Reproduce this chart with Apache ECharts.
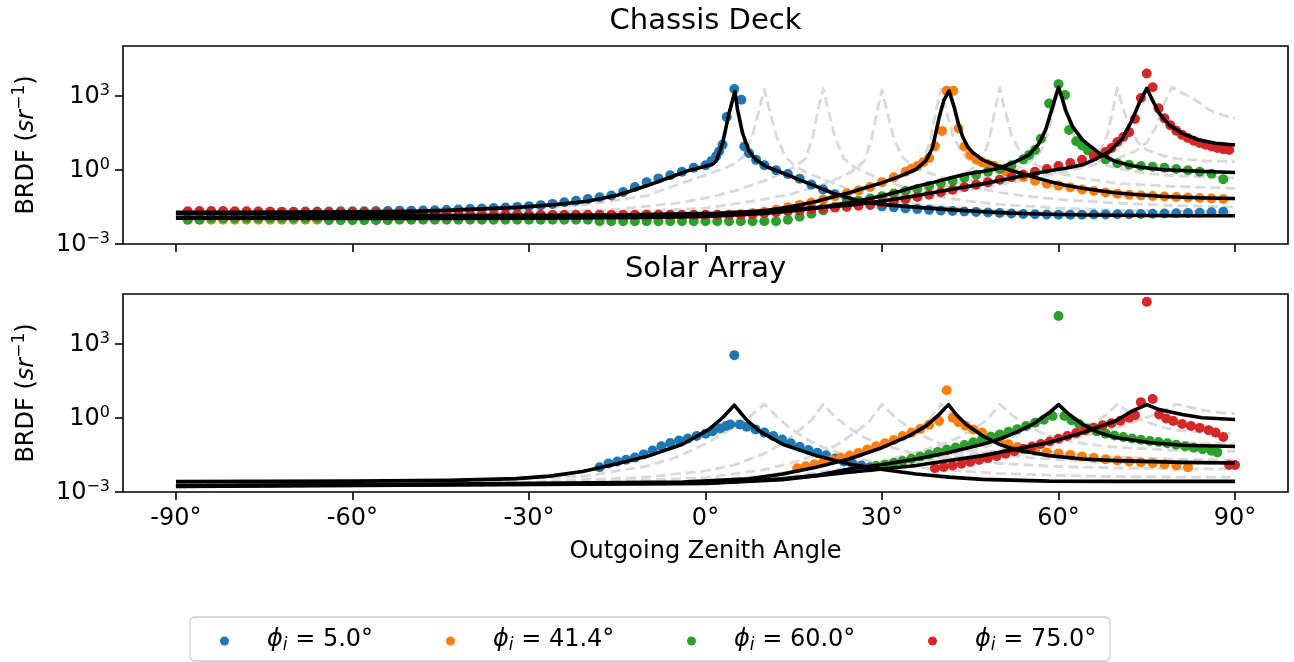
<!DOCTYPE html>
<html><head><meta charset="utf-8">
<script src="https://cdn.jsdelivr.net/npm/echarts@6/dist/echarts.min.js"></script>
<style>html,body{margin:0;padding:0;background:#fff}#c{width:1294px;height:662px}</style>
</head><body><div id="c"></div>
<script>
// ---------- tick labels / categories ----------
const xTicks = [-90, -60, -30, 0, 30, 60, 90];
const yTicks = [1e-3, 1, 1e3];
const seriesNames = ['5.0°', '41.4°', '60.0°', '75.0°'];
const panelTitles = ['Chassis Deck', 'Solar Array'];

// ---------- Chassis Deck: measured points ----------
const deckBlue = [[-88,1.91e-2],[-86,1.91e-2],[-84,1.91e-2],[-82,1.95e-2],[-80,1.95e-2],[-78,1.95e-2],[-76,2.0e-2],[-74,2.0e-2],[-72,2.0e-2],[-70,2.0e-2],[-68,2.04e-2],[-66,2.04e-2],[-64,2.04e-2],[-62,2.09e-2],[-60,2.09e-2],[-58,2.09e-2],[-56,2.14e-2],[-54,2.14e-2],[-52,2.19e-2],[-50,2.19e-2],[-48,2.24e-2],[-46,2.29e-2],[-44,2.34e-2],[-42,2.45e-2],[-40,2.57e-2],[-38,2.69e-2],[-36,2.82e-2],[-34,2.95e-2],[-32,3.16e-2],[-30,3.39e-2],[-28,3.72e-2],[-26,4.17e-2],[-24,4.9e-2],[-22,5.62e-2],[-20,6.61e-2],[-18,7.76e-2],[-16,9.12e-2],[-14,0.126],[-12,0.2],[-10,0.316],[-8,0.447],[-6,0.603],[-4,0.832],[-2,1.2],[0,1.51],[1,2.24],[1.8,3.47],[2.3,5.5],[2.9,10.2],[3.6,135],[4.9,1820],[6.1,676],[6.6,8.71],[7.4,4.68],[8.6,2.51],[10,1.51],[12,0.955],[14,0.676],[16,0.437],[18,0.251],[20,0.158],[22,0.102],[24,6.76e-2],[26,4.79e-2],[28,3.8e-2],[30,3.31e-2],[32,3.02e-2],[34,2.75e-2],[36,2.57e-2],[38,2.4e-2],[40,2.24e-2],[42,2.14e-2],[44,2.04e-2],[46,1.95e-2],[48,1.86e-2],[50,1.78e-2],[52,1.7e-2],[54,1.62e-2],[56,1.58e-2],[58,1.55e-2],[60,1.51e-2],[62,1.51e-2],[64,1.51e-2],[66,1.55e-2],[68,1.55e-2],[70,1.58e-2],[72,1.58e-2],[74,1.62e-2],[76,1.66e-2],[78,1.7e-2],[80,1.74e-2],[82,1.78e-2],[84,1.82e-2],[86,1.91e-2],[88,2.0e-2]];
const deckOrange = [[-88,9.55e-3],[-86,9.55e-3],[-84,9.55e-3],[-82,9.55e-3],[-80,9.55e-3],[-78,9.55e-3],[-76,9.55e-3],[-74,9.55e-3],[-72,9.55e-3],[-70,9.55e-3],[-68,9.55e-3],[-66,9.55e-3],[-64,1.05e-2],[-62,1.05e-2],[-60,1.05e-2],[-58,1.05e-2],[-56,1.05e-2],[-54,1.05e-2],[-52,1.05e-2],[-50,1.05e-2],[-48,1.05e-2],[-46,1.05e-2],[-44,1.1e-2],[-42,1.1e-2],[-40,1.1e-2],[-38,1.1e-2],[-36,1.1e-2],[-34,1.1e-2],[-32,1.1e-2],[-30,1.1e-2],[-28,1.1e-2],[-26,1.1e-2],[-24,1.1e-2],[-22,1.1e-2],[-20,1.1e-2],[-18,1.2e-2],[-16,1.2e-2],[-14,1.2e-2],[-12,1.2e-2],[-10,1.2e-2],[-8,1.2e-2],[-6,1.2e-2],[-4,1.2e-2],[-2,1.2e-2],[0,1.2e-2],[2,1.32e-2],[4,1.45e-2],[6,1.58e-2],[8,1.74e-2],[10,2.0e-2],[12,2.4e-2],[14,3.02e-2],[16,3.8e-2],[18,4.79e-2],[20,6.31e-2],[22,8.51e-2],[24,0.112],[26,0.145],[28,0.2],[30,0.316],[32,0.5],[34,0.832],[35,1.1],[36,1.41],[37,2.0],[38,2.95],[39,8.91],[40.2,37.2],[41,1550],[42.1,1550],[43,46.8],[44,8.71],[45,3.98],[46,2.63],[47,2.0],[48,1.66],[49,1.45],[50,1.1],[51,0.871],[52,0.724],[54,0.525],[56,0.363],[58,0.275],[60,0.229],[62,0.191],[64,0.158],[66,0.138],[68,0.12],[70,0.107],[72,9.77e-2],[74,9.12e-2],[76,8.71e-2],[78,8.32e-2],[80,7.94e-2],[82,7.59e-2],[84,7.24e-2],[86,6.92e-2],[88,6.61e-2]];
const deckGreen = [[-88,9.55e-3],[-86,9.55e-3],[-84,1.1e-2],[-82,1.1e-2],[-80,1.1e-2],[-78,1.1e-2],[-76,1.1e-2],[-74,1.1e-2],[-72,1.1e-2],[-70,1.1e-2],[-68,1.1e-2],[-66,1.1e-2],[-64,9.12e-3],[-62,9.12e-3],[-60,9.12e-3],[-58,9.12e-3],[-56,9.12e-3],[-54,9.12e-3],[-52,9.55e-3],[-50,9.55e-3],[-48,9.55e-3],[-46,9.55e-3],[-44,9.55e-3],[-42,9.55e-3],[-40,9.55e-3],[-38,9.55e-3],[-36,9.55e-3],[-34,9.55e-3],[-32,9.55e-3],[-30,9.55e-3],[-28,9.55e-3],[-26,9.55e-3],[-24,9.55e-3],[-22,9.55e-3],[-20,9.55e-3],[-18,8.32e-3],[-16,8.32e-3],[-14,8.32e-3],[-12,8.32e-3],[-10,8.32e-3],[-8,8.32e-3],[-6,8.32e-3],[-4,8.32e-3],[-2,8.32e-3],[0,8.32e-3],[2,8.32e-3],[4,8.32e-3],[6,8.32e-3],[8,8.32e-3],[10,8.32e-3],[12,8.32e-3],[14,9.55e-3],[16,1.26e-2],[18,1.66e-2],[20,2.29e-2],[22,3.16e-2],[24,4.37e-2],[26,5.62e-2],[28,6.92e-2],[30,8.51e-2],[32,0.11],[34,0.138],[36,0.166],[38,0.219],[40,0.282],[42,0.363],[44,0.479],[46,0.631],[48,0.832],[50,1.07],[52,1.51],[54,2.63],[55,3.98],[56,6.31],[57,17.8],[58.4,479],[60,2880],[61.1,1050],[61.8,40.7],[63,14.1],[64,9.55],[65,6.03],[66,4.17],[68,2.63],[70,1.82],[72,1.58],[74,1.41],[76,1.32],[78,1.2],[80,1.07],[82,0.955],[84,0.832],[86,0.692],[88,0.417]];
const deckRed = [[-88,2.09e-2],[-86,2.14e-2],[-84,2.14e-2],[-82,2.14e-2],[-80,2.09e-2],[-78,2.09e-2],[-76,2.04e-2],[-74,2.0e-2],[-72,1.95e-2],[-70,1.95e-2],[-68,1.91e-2],[-66,1.91e-2],[-64,1.86e-2],[-62,1.86e-2],[-60,1.82e-2],[-58,1.82e-2],[-56,1.78e-2],[-54,1.74e-2],[-52,1.74e-2],[-50,1.7e-2],[-48,1.7e-2],[-46,1.66e-2],[-44,1.62e-2],[-42,1.51e-2],[-40,1.51e-2],[-38,1.51e-2],[-36,1.51e-2],[-34,1.51e-2],[-32,1.51e-2],[-30,1.51e-2],[-28,1.51e-2],[-26,1.51e-2],[-24,1.51e-2],[-22,1.51e-2],[-20,1.51e-2],[-18,1.51e-2],[-16,1.51e-2],[-14,1.51e-2],[-12,1.51e-2],[-10,1.51e-2],[-8,1.51e-2],[-6,1.51e-2],[-4,1.51e-2],[-2,1.51e-2],[0,1.51e-2],[2,1.51e-2],[4,1.51e-2],[6,1.51e-2],[8,1.58e-2],[10,1.74e-2],[12,1.91e-2],[14,2.09e-2],[16,2.29e-2],[18,2.51e-2],[20,2.75e-2],[22,2.95e-2],[24,3.16e-2],[26,3.55e-2],[28,3.98e-2],[30,4.47e-2],[32,5.37e-2],[34,6.46e-2],[36,7.94e-2],[38,9.77e-2],[40,0.123],[42,0.155],[44,0.2],[46,0.251],[48,0.316],[50,0.398],[52,0.5],[54,0.646],[56,0.832],[58,1.07],[60,1.41],[62,1.86],[64,2.51],[66,3.55],[68,5.25],[69,7.59],[70,13.2],[71,20.9],[72,33.1],[73,112],[74,794],[75,7760],[76,2140],[77,302],[78,120],[79,63.1],[80,38],[81,25.7],[82,19.1],[83,14.8],[84,12],[85,10.2],[86,8.71],[87,7.59],[88,6.76],[89,6.31]];

// ---------- Chassis Deck: fitted model ----------
const deckBlueFit = [[-90,1.91e-2],[-80,1.91e-2],[-70,1.95e-2],[-60,2.0e-2],[-50,2.09e-2],[-44,2.29e-2],[-38,2.63e-2],[-32,3.02e-2],[-26,3.8e-2],[-20,5.37e-2],[-15,9.33e-2],[-10,0.224],[-6,0.5],[-3,0.912],[0,1.38],[1,1.58],[1.8,2.24],[2.9,11.7],[4.0,191],[5.0,1450],[5.45,263],[6.3,30.2],[7.4,5.5],[8.6,2.51],[10.3,1.35],[13.1,0.741],[15.9,0.398],[18.8,0.214],[21.6,0.115],[24.4,7.24e-2],[27,5.01e-2],[30,3.98e-2],[34,3.31e-2],[38,2.82e-2],[42,2.4e-2],[46,2.09e-2],[50,1.86e-2],[55,1.66e-2],[60,1.55e-2],[65,1.48e-2],[70,1.45e-2],[75,1.41e-2],[80,1.38e-2],[90,1.38e-2]];
const deckOrangeFit = [[-90,1.2e-2],[-60,1.17e-2],[-30,1.23e-2],[-10,1.29e-2],[0,1.45e-2],[5,1.66e-2],[10,2.19e-2],[13.1,2.82e-2],[16,3.8e-2],[18.8,5.25e-2],[21.6,7.94e-2],[24.4,0.117],[27.3,0.191],[30.1,0.302],[32.9,0.525],[35.8,1.05],[37.5,2.4],[38.6,7.94],[39.7,126],[40.5,631],[41.4,1550],[42.3,316],[43.0,70.8],[43.7,21.9],[44.5,8.91],[45.4,5.01],[47.1,2.51],[49.9,1.32],[52.7,0.832],[55.6,0.525],[58.4,0.339],[61,0.24],[64.1,0.178],[67,0.141],[69.7,0.117],[72.5,0.102],[75.4,9.12e-2],[78,8.32e-2],[81,7.76e-2],[85,7.24e-2],[90,6.92e-2]];
const deckGreenFit = [[-90,1.1e-2],[-50,1.07e-2],[-30,1.1e-2],[-10,1.17e-2],[0,1.29e-2],[10,1.7e-2],[15,2.19e-2],[20,3.09e-2],[24.45,4.79e-2],[27.3,6.46e-2],[30.1,8.91e-2],[32.9,0.132],[35.8,0.209],[38.6,0.302],[41.4,0.457],[44.3,0.676],[47.1,0.851],[49.9,1.15],[52.7,2.14],[55.0,3.98],[56.7,11.7],[57.8,40.7],[59.0,355],[60.0,2140],[60.6,794],[61.2,257],[62.4,55],[64.1,15.8],[66.9,4.68],[69.7,2.14],[72.5,1.45],[75.4,1.15],[78,1.0],[81,0.933],[85,0.851],[90,0.776]];
const deckRedFit = [[-90,1.74e-2],[-60,1.58e-2],[-43.5,1.41e-2],[-15,1.48e-2],[2,1.74e-2],[13,2.34e-2],[24.45,3.72e-2],[30.1,5.5e-2],[35.8,8.91e-2],[41.4,0.155],[47.1,0.269],[52.7,0.5],[55.6,0.676],[58.4,0.912],[61.2,1.15],[64.1,1.58],[66.3,2.69],[68.6,5.37],[70.9,18.6],[72.5,102],[73.7,479],[75.0,1950],[75.95,661],[77.1,191],[78.8,64.6],[81.0,29.5],[83.9,15.8],[86.7,11.7],[90,10]];

// ---------- Chassis Deck: reference model curves (grey dashed) ----------
const deckTheory10 = [[-90,1.58e-2],[-60,1.66e-2],[-40,1.91e-2],[-30,2.4e-2],[-20,3.98e-2],[-10,8.91e-2],[-5,0.24],[0,0.603],[3,1.12],[5,1.78],[6.5,3.55],[8,25.1],[9.2,316],[10,1780],[10.8,316],[12,25.1],[13.5,3.55],[15,1.58],[17,0.794],[20,0.417],[25,0.141],[30,7.08e-2],[35,4.37e-2],[40,3.16e-2],[50,2.19e-2],[60,1.82e-2],[70,1.66e-2],[80,1.55e-2],[90,1.51e-2]];
const deckTheory20 = [[-90,1.51e-2],[-50,1.58e-2],[-30,1.82e-2],[-15,2.51e-2],[-5,4.47e-2],[0,7.08e-2],[5,0.141],[10,0.355],[13,0.708],[15,1.26],[17,2.82],[18.2,20],[19.2,316],[20,1910],[20.8,316],[22,20],[23.5,2.82],[25,1.41],[27,0.794],[30,0.398],[35,0.151],[40,7.94e-2],[45,5.25e-2],[50,3.98e-2],[60,2.82e-2],[70,2.34e-2],[80,2.09e-2],[90,2.0e-2]];
const deckTheory30 = [[-90,1.41e-2],[-50,1.45e-2],[-20,1.66e-2],[0,2.82e-2],[10,6.31e-2],[15,0.112],[20,0.251],[23,0.5],[25,0.891],[27,2.24],[28.2,15.8],[29.2,251],[30,1660],[30.8,251],[32,17.8],[33.5,3.16],[35,1.58],[37,0.891],[40,0.5],[45,0.209],[50,0.12],[55,8.32e-2],[60,6.31e-2],[70,4.47e-2],[80,3.55e-2],[90,3.16e-2]];
const deckTheory40 = [[-90,1.26e-2],[-40,1.26e-2],[0,1.51e-2],[10,2.4e-2],[20,5.62e-2],[25,0.112],[30,0.282],[33,0.5],[35,0.891],[37,2.24],[38.2,15.8],[39.2,251],[40,1780],[40.8,316],[42,25.1],[43.5,5.01],[45,2.24],[48,1.12],[50,0.759],[55,0.355],[60,0.2],[70,0.1],[80,7.24e-2],[90,6.31e-2]];
const deckTheory50 = [[-90,1.12e-2],[-50,1.12e-2],[-20,1.2e-2],[0,1.41e-2],[10,1.91e-2],[20,3.31e-2],[30,7.59e-2],[35,0.141],[40,0.316],[43,0.562],[45,0.955],[47,2.24],[48.2,15.8],[49.2,251],[50,2000],[50.8,316],[52,25.1],[53.5,5.01],[55,2.24],[58,1.0],[60,0.708],[65,0.417],[70,0.282],[80,0.209],[90,0.178]];
const deckTheory60 = [[-90,1.12e-2],[-40,1.12e-2],[0,1.32e-2],[20,2.82e-2],[30,6.31e-2],[40,0.2],[45,0.355],[50,0.708],[53,1.12],[55,2.0],[57,5.62],[58.3,31.6],[59.3,398],[60,2000],[60.8,398],[62,50.1],[63.5,10],[65,3.98],[68,1.58],[70,1.12],[75,0.708],[80,0.562],[90,0.468]];
const deckTheory70 = [[-90,1.41e-2],[-40,1.32e-2],[0,1.58e-2],[20,2.82e-2],[30,5.01e-2],[40,0.112],[50,0.282],[55,0.5],[60,0.891],[63,1.41],[65,2.24],[67,5.62],[68.3,25.1],[69.3,316],[70,2000],[70.8,398],[72,56.2],[73.5,12.6],[75,6.31],[78,3.55],[80,2.82],[85,2.29],[90,2.14]];
const deckTheory80 = [[-90,1.58e-2],[-40,1.51e-2],[0,1.78e-2],[20,3.16e-2],[40,0.1],[50,0.251],[60,0.708],[65,1.41],[70,2.82],[73,5.62],[75,12.6],[76.5,50.1],[77.8,398],[79.3,2190],[81,1260],[82.2,912],[84,501],[85.6,263],[88,158],[90,123]];

// ---------- Solar Array: measured points ----------
const solarBlue = [[-18,1.0e-2],[-16.5,1.41e-2],[-15,1.7e-2],[-13.5,2.0e-2],[-12,2.45e-2],[-10.5,3.31e-2],[-9,4.79e-2],[-7.5,7.08e-2],[-6,9.55e-2],[-4.5,0.12],[-3,0.145],[-1.5,0.182],[0,0.224],[1.2,0.282],[2.5,0.372],[3.5,0.468],[4.2,0.537],[4.9,339],[5.8,0.537],[7,0.437],[8.5,0.339],[10,0.251],[11.5,0.182],[13,0.132],[14.5,9.33e-2],[16,6.76e-2],[17.5,5.01e-2],[19,3.89e-2],[20.5,3.02e-2],[22,2.24e-2],[23.5,1.7e-2],[25,1.38e-2],[26.5,1.17e-2],[28,1.0e-2]];
const solarOrange = [[15.6,9.12e-3],[17,1.1e-2],[18.5,1.32e-2],[20,1.62e-2],[21.5,1.95e-2],[23,2.4e-2],[24.5,2.95e-2],[26,3.8e-2],[27.5,5.25e-2],[29,7.08e-2],[30.5,9.33e-2],[32,0.126],[33.5,0.182],[35,0.251],[36.5,0.355],[38,0.525],[39.7,0.741],[41,12.9],[42,1.0],[43,0.661],[44.2,0.479],[45.5,0.339],[47,0.251],[48.5,0.174],[50,0.12],[51.5,8.51e-2],[53,6.61e-2],[54.5,5.37e-2],[56,4.68e-2],[58,3.98e-2],[60,3.63e-2],[62,3.16e-2],[64,2.75e-2],[66,2.4e-2],[68,2.09e-2],[70,1.86e-2],[72,1.7e-2],[74,1.55e-2],[76,1.45e-2],[78,1.32e-2],[80,1.17e-2],[82,1.0e-2]];
const solarGreen = [[29,1.12e-2],[30.5,1.26e-2],[32,1.51e-2],[33.5,1.78e-2],[35,2.19e-2],[36.5,2.69e-2],[38,3.31e-2],[39.5,4.17e-2],[41,5.13e-2],[42.5,6.31e-2],[44,7.94e-2],[45.5,0.102],[47,0.132],[48.5,0.166],[50,0.209],[51.5,0.269],[53,0.347],[54.5,0.468],[56,0.631],[57.5,0.832],[59,1.17],[60,12900],[61,1.17],[62.2,0.794],[63.5,0.562],[65,0.372],[66.5,0.282],[68,0.229],[69.5,0.191],[71,0.166],[72.5,0.145],[74,0.129],[75.5,0.115],[77,0.105],[78.5,9.33e-2],[80,8.13e-2],[81.5,7.08e-2],[83,6.17e-2],[84.5,5.37e-2],[86,4.68e-2],[87,3.98e-2]];
const solarRed = [[39,9.12e-3],[40.5,1.02e-2],[42,1.17e-2],[43.5,1.38e-2],[45,1.62e-2],[46.5,1.95e-2],[48,2.34e-2],[49.5,2.82e-2],[51,3.55e-2],[52.5,4.47e-2],[54,5.5e-2],[55.5,6.92e-2],[57,8.71e-2],[58.5,0.11],[60,0.141],[61.5,0.182],[63,0.24],[64.5,0.316],[66,0.398],[67.5,0.5],[69,0.603],[70.5,0.759],[72,1.0],[73,1.26],[74,4.27],[75,49000],[76,5.75],[77.1,1.35],[78.3,0.933],[79.5,0.741],[81,0.562],[82.5,0.468],[84,0.389],[85.5,0.316],[86.7,0.251],[88,0.166],[89,1.23e-2],[90,1.23e-2]];

// ---------- Solar Array: fitted model ----------
const solarBlueFit = [[-90,2.63e-3],[-60,2.75e-3],[-43.5,2.95e-3],[-32.2,3.47e-3],[-26.5,4.37e-3],[-20.9,6.76e-3],[-15.2,1.35e-2],[-9.5,2.95e-2],[-3.9,8.51e-2],[0.6,0.339],[2.9,1.0],[4.9,3.24],[6.9,0.851],[9.1,0.295],[13.1,8.51e-2],[18.8,2.95e-2],[24.4,1.35e-2],[30.1,8.13e-3],[35.8,5.37e-3],[41.4,3.98e-3],[47.1,3.24e-3],[58.4,2.75e-3],[69.7,2.69e-3],[90,2.69e-3]];
const solarOrangeFit = [[-90,1.82e-3],[-43.5,2.09e-3],[-3.9,2.51e-3],[7.4,3.39e-3],[13.1,5.37e-3],[18.8,1.0e-2],[24.4,2.14e-2],[30.1,6.31e-2],[34.6,0.186],[37.5,0.468],[39.7,1.35],[41.3,3.39],[42.6,1.35],[44.3,0.537],[47.1,0.186],[49.9,8.51e-2],[52.7,5.13e-2],[58.4,2.95e-2],[64.1,2.14e-2],[69.7,1.86e-2],[81,1.58e-2],[90,1.48e-2]];
const solarGreenFit = [[-90,1.74e-3],[-43.5,2.0e-3],[0,2.29e-3],[13.1,3.39e-3],[18.8,4.68e-3],[24.45,8.51e-3],[30.1,1.29e-2],[35.8,2.14e-2],[41.4,3.98e-2],[47.1,8.51e-2],[49.9,0.135],[52.7,0.251],[55.6,0.537],[58.4,1.58],[60,3.39],[61.8,1.35],[64.1,0.537],[66.9,0.251],[69.7,0.158],[75.4,0.1],[81,7.76e-2],[90,6.92e-2]];
const solarRedFit = [[-90,1.66e-3],[-43.5,1.91e-3],[0,2.19e-3],[13,3.16e-3],[24.45,6.31e-3],[30.1,8.51e-3],[35.8,1.17e-2],[41.4,1.86e-2],[47.1,2.95e-2],[52.7,5.37e-2],[58.4,0.1],[64.1,0.251],[69.7,0.741],[72.5,1.86],[75,3.39],[77.1,2.14],[81,1.35],[84.4,1.0],[90,0.851]];

// ---------- Solar Array: reference model curves (grey dashed) ----------
const solarTheory10 = [[-90,2.4e-3],[-40,2.63e-3],[-20,4.47e-3],[-10,1.12e-2],[-5,2.51e-2],[0,8.91e-2],[3,0.224],[6,0.631],[8,1.41],[10,3.55],[12,1.2],[14,0.447],[17,0.141],[20,6.31e-2],[25,2.51e-2],[30,1.41e-2],[40,7.94e-3],[50,5.62e-3],[60,4.68e-3],[70,4.17e-3],[80,3.98e-3],[90,3.98e-3]];
const solarTheory20 = [[-90,2.19e-3],[-30,2.51e-3],[-10,3.98e-3],[0,7.08e-3],[5,1.26e-2],[10,3.55e-2],[13,8.91e-2],[16,0.316],[18,0.794],[20,3.55],[22,1.12],[24,0.447],[27,0.158],[30,7.94e-2],[35,3.8e-2],[40,2.4e-2],[50,1.41e-2],[60,1.07e-2],[70,9.33e-3],[80,8.71e-3],[90,8.51e-3]];
const solarTheory30 = [[-90,2.0e-3],[-20,2.4e-3],[0,3.8e-3],[10,7.94e-3],[15,1.58e-2],[20,3.98e-2],[23,0.1],[26,0.316],[28,0.794],[30,3.55],[32,1.2],[34,0.5],[37,0.178],[40,8.91e-2],[45,4.47e-2],[50,3.02e-2],[60,2.0e-2],[70,1.58e-2],[80,1.45e-2],[90,1.38e-2]];
const solarTheory40 = [[-90,1.91e-3],[0,2.82e-3],[10,4.47e-3],[20,1.12e-2],[25,2.51e-2],[30,6.31e-2],[33,0.126],[36,0.355],[38,0.794],[40,3.55],[42,1.26],[44,0.562],[47,0.2],[50,0.1],[55,5.25e-2],[60,3.72e-2],[70,2.51e-2],[80,2.09e-2],[90,2.0e-2]];
const solarTheory50 = [[-90,1.82e-3],[0,2.51e-3],[15,4.47e-3],[25,1.0e-2],[30,1.78e-2],[35,3.55e-2],[40,7.94e-2],[43,0.158],[46,0.398],[48,0.891],[50,3.55],[52,1.32],[54,0.603],[57,0.251],[60,0.141],[65,8.32e-2],[70,6.31e-2],[80,4.79e-2],[90,4.37e-2]];
const solarTheory60 = [[-90,1.74e-3],[0,2.4e-3],[20,5.01e-3],[30,1.0e-2],[40,2.51e-2],[45,4.47e-2],[50,0.1],[53,0.2],[56,0.5],[58,1.0],[60,3.55],[62,1.41],[64,0.631],[67,0.282],[70,0.178],[75,0.12],[80,0.1],[90,8.71e-2]];
const solarTheory70 = [[-90,1.66e-3],[0,2.29e-3],[20,4.47e-3],[35,1.26e-2],[45,3.16e-2],[55,7.94e-2],[60,0.158],[63,0.282],[66,0.631],[68,1.26],[70,3.55],[72,1.66],[74,0.832],[77,0.447],[80,0.316],[85,0.251],[90,0.229]];
const solarTheory80 = [[-90,1.58e-3],[0,2.19e-3],[30,7.94e-3],[50,3.98e-2],[60,0.112],[65,0.2],[70,0.398],[73,0.708],[76,1.26],[78,2.0],[80,3.55],[82,2.82],[84,2.14],[86,1.78],[88,1.58],[90,1.51]];

// ---------- build ----------
const FONT = 'DejaVu Sans';
const colors = ['#1f77b4', '#ff7f0e', '#2ca02c', '#d62728'];
const legendLeft = [215, 441, 682, 923];
const panels = [
  { points: [deckBlue, deckOrange, deckGreen, deckRed],
    fits: [deckBlueFit, deckOrangeFit, deckGreenFit, deckRedFit],
    theory: [deckTheory10, deckTheory20, deckTheory30, deckTheory40, deckTheory50, deckTheory60, deckTheory70, deckTheory80] },
  { points: [solarBlue, solarOrange, solarGreen, solarRed],
    fits: [solarBlueFit, solarOrangeFit, solarGreenFit, solarRedFit],
    theory: [solarTheory10, solarTheory20, solarTheory30, solarTheory40, solarTheory50, solarTheory60, solarTheory70, solarTheory80] }
];

const series = [];
panels.forEach((p, idx) => {
  p.theory.forEach(d => series.push({
    type: 'line', xAxisIndex: idx, yAxisIndex: idx, data: d, symbol: 'none', silent: true, z: 1,
    lineStyle: { color: '#d9d9d9', width: 2.8, type: [10, 5], join: 'round' }
  }));
  p.points.forEach((d, i) => series.push({
    type: 'scatter', name: seriesNames[i], xAxisIndex: idx, yAxisIndex: idx, data: d, z: 2,
    symbol: 'circle', symbolSize: 10, itemStyle: { color: colors[i], opacity: 1 }
  }));
  p.fits.forEach(d => series.push({
    type: 'line', xAxisIndex: idx, yAxisIndex: idx, data: d, symbol: 'none', silent: true, z: 3,
    lineStyle: { color: '#000', width: 3.6, join: 'round' }
  }));
});

const supRich = {
  b: { fontFamily: FONT, fontSize: 24, color: '#000', lineHeight: 26, verticalAlign: 'bottom' },
  e: { fontFamily: FONT, fontSize: 16, color: '#000', lineHeight: 16, verticalAlign: 'top' }
};
const yNameRich = {
  n: { fontFamily: FONT, fontSize: 24, color: '#000', lineHeight: 28, verticalAlign: 'bottom' },
  i: { fontFamily: FONT, fontSize: 24, fontStyle: 'italic', color: '#000', lineHeight: 28, verticalAlign: 'bottom' },
  s: { fontFamily: FONT, fontSize: 17, color: '#000', lineHeight: 17, verticalAlign: 'top' }
};

function makeX(idx) {
  return {
    gridIndex: idx, type: 'value', min: -99, max: 99,
    axisLine: { show: false, onZero: false }, splitLine: { show: false },
    axisTick: { show: true, length: 8, lineStyle: { color: '#000', width: 1.6 }, customValues: xTicks },
    axisLabel: { show: idx === 1, customValues: xTicks, formatter: v => v + '°', fontFamily: FONT, fontSize: 24, color: '#000', margin: 15 },
    name: idx === 1 ? 'Outgoing Zenith Angle' : '', nameLocation: 'middle', nameGap: 48,
    nameTextStyle: { fontFamily: FONT, fontSize: 24, color: '#000' }
  };
}
function makeY(idx) {
  return {
    gridIndex: idx, type: 'log', logBase: 10, min: 1e-3, max: 1e5,
    axisLine: { show: false, onZero: false }, splitLine: { show: false }, minorTick: { show: false },
    axisTick: { show: true, length: 8, lineStyle: { color: '#000', width: 1.6 }, customValues: yTicks },
    axisLabel: {
      customValues: yTicks, margin: 13,
      formatter: v => { const e = Math.round(Math.log10(v)); return '{b|10}{e|' + (e < 0 ? '\u2212' + (-e) : e) + '}'; },
      rich: supRich
    },
    name: '{n|BRDF (}{i|sr}{s|\u22121}{n|)}', nameLocation: 'middle', nameRotate: 90, nameGap: 84,
    nameTextStyle: { fontFamily: FONT, fontSize: 24, color: '#000', rich: yNameRich }
  };
}

const legendRich = {
  gap: { width: 38 },
  p: { fontFamily: FONT, fontSize: 24, fontStyle: 'italic', color: '#000', lineHeight: 26, verticalAlign: 'top' },
  s: { fontFamily: FONT, fontSize: 17, fontStyle: 'italic', color: '#000', lineHeight: 17, verticalAlign: 'bottom' },
  t: { fontFamily: FONT, fontSize: 24, color: '#000', lineHeight: 26, verticalAlign: 'top' }
};
colors.forEach((c, i) => { legendRich['d' + i] = { width: 9, height: 9, borderRadius: 4.5, backgroundColor: c, verticalAlign: 'middle' }; });

const legends = seriesNames.map((n, i) => ({
  data: [n], left: legendLeft[i], top: 628, orient: 'horizontal', selectedMode: false,
  padding: 0, itemGap: 0, itemWidth: 0, itemHeight: 0, icon: 'none',
  itemStyle: { opacity: 0 },
  formatter: name => '{d' + i + '|}{gap|}{p|\u03d5}{s|i}{t| = ' + name + '}',
  textStyle: { fontFamily: FONT, fontSize: 24, color: '#000', rich: legendRich }
}));

const option = {
  animation: false,
  backgroundColor: '#fff',
  title: panelTitles.map((t, i) => ({
    text: t, left: 705.5, top: i === 0 ? 7 : 255, textAlign: 'center', padding: 0,
    textStyle: { fontFamily: FONT, fontSize: 29, fontWeight: 'normal', color: '#000' }
  })),
  grid: [
    { left: 123, top: 46, width: 1165, height: 198, show: true, borderColor: '#000', borderWidth: 1.6, backgroundColor: 'transparent', containLabel: false, outerBoundsMode: 'none' },
    { left: 123, top: 294, width: 1165, height: 198, show: true, borderColor: '#000', borderWidth: 1.6, backgroundColor: 'transparent', containLabel: false, outerBoundsMode: 'none' }
  ],
  xAxis: [makeX(0), makeX(1)],
  yAxis: [makeY(0), makeY(1)],
  graphic: [{
    type: 'rect', silent: true,
    shape: { x: 190, y: 617, width: 920, height: 44, r: 5 },
    style: { fill: 'none', stroke: '#cccccc', lineWidth: 1.3 }
  }],
  legend: legends,
  series: series
};

const chart = echarts.init(document.getElementById('c'), null, { renderer: 'canvas' });
chart.setOption(option);
</script></body></html>
